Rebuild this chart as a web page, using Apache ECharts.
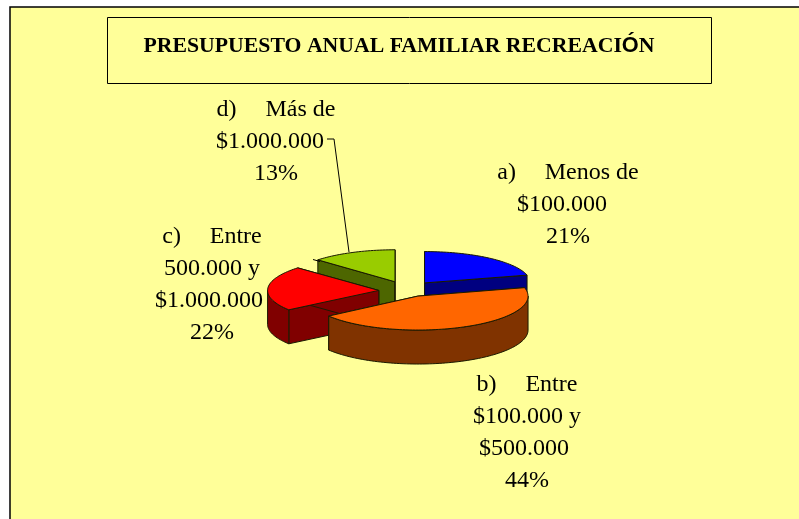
<!DOCTYPE html>
<html>
<head>
<meta charset="utf-8">
<style>
    html, body { margin: 0; padding: 0; background: #fff; }
    #main { width: 799px; height: 519px; }
</style>
<script src="https://cdn.jsdelivr.net/npm/echarts@6/dist/echarts.min.js"></script>
</head>
<body>
<div id="main"></div>
<script>
var categories = ['a)    \u2009Menos de\n$100.000  ', 'b)    \u2009Entre\n$100.000 y\n$500.000 ', 'c)    \u2009Entre\n500.000 y\n$1.000.000 ', 'd)    \u2009Más de\n$1.000.000  '];
var values = [21, 44, 22, 13];
var topColors = ['#0000FF', '#FF6600', '#FF0000', '#99CC00'];
var sideColors = ['#000080', '#803300', '#800000', '#4D6600'];
var titleStart = 'PRESUPUESTO ANUAL FAMILIAR RECREACI';
var titleAccent = 'Ó';
var titleEnd = 'N';

var cx = 407, cy = 290, rx = 108, ry = 32, depth = 34, explode = 0.28;
// ajuste fino por porcion: dx, dy, escala x, escala y
var nudge = [[-1, 0, 0.98, 0.98], [-2, -2, 1.02, 1.06], [2, 1, 1.03, 1.03], [0, 0, 0.98, 1]];
var total = values.reduce(function (a, b) { return a + b; }, 0);

// angulos medidos desde las 12, en sentido horario
var slices = [];
var acc = 0;
values.forEach(function (v, i) {
    var start = acc / total * Math.PI * 2;
    acc += v;
    var end = acc / total * Math.PI * 2;
    var mid = (start + end) / 2;
    var n = nudge[i];
    slices.push({
        index: i, start: start, end: end, mid: mid,
        x: cx + explode * rx * Math.sin(mid) + n[0],
        y: cy - explode * ry * Math.cos(mid) + n[1],
        rx: rx * n[2],
        ry: ry * n[3]
    });
});

function point(s, angle, down) {
    return [s.x + s.rx * Math.sin(angle), s.y - s.ry * Math.cos(angle) + (down || 0)];
}
function apex(s, down) {
    return [s.x, s.y + (down || 0)];
}
function arcPoints(s, a0, a1, down) {
    var pts = [];
    var n = Math.max(2, Math.ceil((a1 - a0) / 0.03));
    for (var k = 0; k <= n; k++) {
        pts.push(point(s, a0 + (a1 - a0) * k / n, down));
    }
    return pts;
}

function poly(points, fill) {
    return {
        type: 'polygon',
        shape: { points: points },
        style: { fill: fill, stroke: '#1a1a00', lineWidth: 1, lineJoin: 'round' }
    };
}

// orden de pintado: de atras hacia adelante
var drawOrder = [3, 0, 2, 1];

function renderItem(params, api) {
    var s = slices[drawOrder[params.dataIndex]];
    var side = sideColors[s.index];
    var children = [];
    // paredes radiales
    [s.start, s.end].forEach(function (a) {
        children.push(poly([apex(s), point(s, a), point(s, a, depth), apex(s, depth)], side));
    });
    // pared exterior, solo la parte frontal
    var a0 = Math.max(s.start, Math.PI / 2);
    var a1 = Math.min(s.end, Math.PI * 3 / 2);
    if (a1 > a0) {
        children.push(poly(arcPoints(s, a0, a1, 0).concat(arcPoints(s, a0, a1, depth).reverse()), side));
    }
    // cara superior
    children.push(poly([apex(s)].concat(arcPoints(s, s.start, s.end, 0)), topColors[s.index]));
    return { type: 'group', children: children };
}

var labelFont = { fontFamily: 'Liberation Serif', fontSize: 24, lineHeight: 32, fill: '#000', textAlign: 'center', textVerticalAlign: 'top' };

function label(i, x, y) {
    return {
        type: 'text',
        x: x, y: y, z: 2,
        style: Object.assign({ text: categories[i] + '\n' + values[i] + '%' }, labelFont)
    };
}

var myChart = echarts.init(document.getElementById('main'), null, { renderer: 'canvas' });
var option = {
    animation: false,
    backgroundColor: '#fff',
    graphic: [
        { type: 'rect', shape: { x: 10, y: 7, width: 800, height: 520 }, style: { fill: '#FFFF99', stroke: '#000', lineWidth: 1.5 }, z: 0 },
        { type: 'rect', shape: { x: 107.5, y: 17.5, width: 604, height: 66 }, style: { fill: '#FFFF99', stroke: '#000', lineWidth: 1 }, z: 1 },
        {
            type: 'text', x: 399, y: 46, z: 2,
            style: {
                text: titleStart + '{o|' + titleAccent + '}' + titleEnd,
                fontFamily: 'Liberation Serif', fontWeight: 'bold', fontSize: 21.75, fill: '#000',
                textAlign: 'center', textVerticalAlign: 'middle',
                rich: { o: { fontFamily: 'Liberation Sans', fontWeight: 'bold', fontSize: 21.75, fill: '#000' } }
            }
        },
        label(0, 568, 157),
        label(1, 527, 369),
        label(2, 212, 221),
        label(3, 276, 94),
        { type: 'polyline', shape: { points: [[327, 139], [334, 139], [349, 252]] }, style: { stroke: '#000', lineWidth: 1, fill: null }, z: 20 },
        { type: 'line', shape: { x1: 313, y1: 259.5, x2: 320, y2: 261.5 }, style: { stroke: '#000', lineWidth: 1 }, z: 20 }
    ],
    series: [{
        type: 'custom',
        coordinateSystem: 'none',
        renderItem: renderItem,
        data: drawOrder.map(function (i) { return values[i]; }),
        z: 10,
        silent: true
    }]
};
option && myChart.setOption(option);
</script>
</body>
</html>
